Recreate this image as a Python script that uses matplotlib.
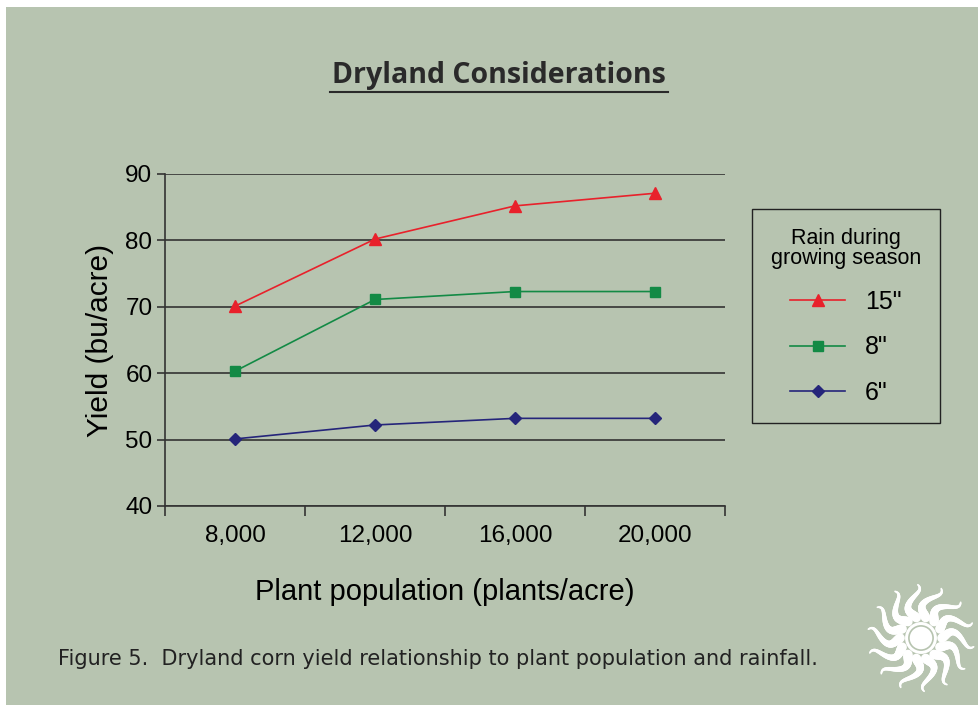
import numpy as np
import matplotlib.pyplot as plt
from matplotlib.patches import Rectangle, Circle

# data
populations = ['8,000', '12,000', '16,000', '20,000']
rain_labels = ['15"', '8"', '6"']
yield_15 = [70.1, 80.2, 85.2, 87.1]
yield_8 = [60.3, 71.1, 72.3, 72.3]
yield_6 = [50.1, 52.2, 53.2, 53.2]

bg = '#b7c4b0'
red = '#e8212b'
green = '#138a45'
navy = '#25257a'

fig = plt.figure(figsize=(9.79, 7.05), dpi=100)
fig.patch.set_facecolor('white')
fig.patches.append(Rectangle((6 / 979, 0), 1, 1 - 7 / 705, transform=fig.transFigure,
                             facecolor=bg, edgecolor='none', zorder=-10))

ax = fig.add_axes([165 / 979, 1 - 506 / 705, 560 / 979, 332 / 705])
ax.patch.set_alpha(0)

x = np.arange(len(populations))
ax.plot(x, yield_15, color=red, lw=1.2, marker='^', ms=8, label=rain_labels[0])
ax.plot(x, yield_8, color=green, lw=1.2, marker='s', ms=7, label=rain_labels[1])
ax.plot(x, yield_6, color=navy, lw=1.2, marker='D', ms=6, label=rain_labels[2])

ax.set_xlim(-0.5, 3.5)
ax.set_ylim(40, 90)
ax.set_yticks([40, 50, 60, 70, 80, 90])
ax.set_xticks(x)
ax.set_xticklabels(populations)
ax.set_xticks(np.arange(-0.5, 4, 1), minor=True)
ax.tick_params(axis='x', which='major', length=0, pad=14, labelsize=17.5)
ax.tick_params(axis='x', which='minor', length=7, width=1.2, color='#333333')
ax.tick_params(axis='y', length=6, width=1.2, color='#333333', labelsize=17.5, pad=3)
for lab in ax.get_xticklabels() + ax.get_yticklabels():
    lab.set_fontfamily('Liberation Sans')

ax.yaxis.grid(True, color='#333333', lw=1.2)
ax.set_axisbelow(True)
for s in ['top', 'right']:
    ax.spines[s].set_visible(False)
for s in ['left', 'bottom']:
    ax.spines[s].set_color('#333333')
    ax.spines[s].set_linewidth(1.2)

ax.set_ylabel('Yield (bu/acre)', fontsize=21.5, family='Liberation Sans', labelpad=8)
ax.set_xlabel('Plant population (plants/acre)', fontsize=21, family='Liberation Sans',
              labelpad=22)

leg = fig.legend(loc='upper left', bbox_to_anchor=(752 / 979, 1 - 209 / 705),
                 title='Rain during\ngrowing season', frameon=True, fancybox=False,
                 edgecolor='#222222', facecolor=bg, framealpha=1,
                 prop={'family': 'Liberation Sans', 'size': 18},
                 title_fontproperties={'family': 'Liberation Sans', 'size': 15.5},
                 labelspacing=0.85, borderpad=0.75, handlelength=2.2, handletextpad=0.8,
                 borderaxespad=0)
leg.get_frame().set_linewidth(1.0)
leg.get_title().set_multialignment('center')
leg.get_title().set_linespacing(0.95)
leg._legend_box.align = 'center'

fig.text(499 / 979, 1 - 76 / 705, 'Dryland Considerations', ha='center', va='center',
         fontsize=20.5, fontweight='bold', family='Open Sans', color='#2a2a2a')
fig.lines.append(plt.Line2D([330 / 979, 668 / 979], [1 - 92 / 705, 1 - 92 / 705],
                            transform=fig.transFigure, color='#2a2a2a', lw=1.5))

fig.text(58 / 979, 1 - 659 / 705,
         'Figure 5.  Dryland corn yield relationship to plant population and rainfall.',
         ha='left', va='center', fontsize=15, family=['Liberation Sans Narrow', 'DejaVu Sans'],
         color='#222222')

# sun logo
sun = fig.add_axes([(921 - 55) / 979, 1 - (638 + 55) / 705, 110 / 979, 110 / 705])
sun.set_xlim(-1, 1)
sun.set_ylim(-1, 1)
sun.set_aspect('equal')
sun.axis('off')
sun.add_patch(Circle((0, 0), 0.29, facecolor='white', edgecolor='none'))
sun.add_patch(Circle((0, 0), 0.22, facecolor='none', edgecolor=bg, lw=1.2))
r = np.linspace(0.38, 0.97, 40)
for k in range(14):
    a0 = 2 * np.pi * k / 14
    ang = a0 + 0.2 * np.sin((r - 0.38) * 9)
    w = 6 * (1 - (r - 0.38) / 0.62) + 0.8
    for i in range(len(r) - 1):
        sun.plot(r[i:i + 2] * np.cos(ang[i:i + 2]), r[i:i + 2] * np.sin(ang[i:i + 2]),
                 color='white', lw=w[i], solid_capstyle='round')

fig.savefig('out.png', dpi=100, facecolor=fig.get_facecolor())
